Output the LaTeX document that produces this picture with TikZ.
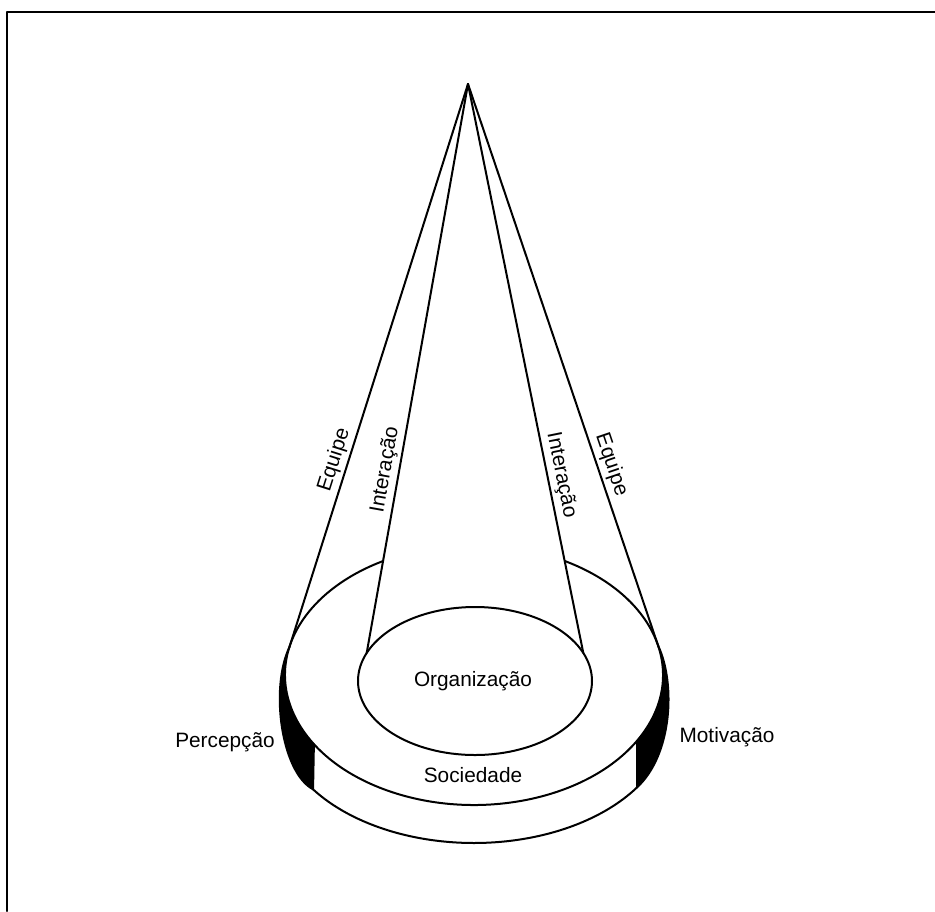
\documentclass[tikz,border=0pt]{standalone}
\usepackage{fontspec}
\setmainfont{Liberation Sans}
\usetikzlibrary{calc}
\begin{document}
\begin{tikzpicture}[x=1pt,y=-1pt,line join=round,line cap=round,
  lbl/.style={font=\fontsize{20.8}{24}\selectfont,inner sep=3pt},
  edge/.style={line width=2pt},
  frame/.style={line width=2.6pt}]
\useasboundingbox (0,0) rectangle (935,911);
% frame
\coordinate (FR) at (935,12);
\coordinate (FC) at (7,12);
\coordinate (FB) at (7,911);
\draw[frame] (FR) -- (FC) -- (FB);
% key points
\coordinate (A) at (468,84);
\coordinate (C1) at (474,675);
\coordinate (C0) at (475,681);
\coordinate (C2) at (474,718);
\coordinate (PL) at ($(C1)+(192.3:189 and 130)$);
\coordinate (PR) at ($(C1)+(346.9:189 and 130)$);
\coordinate (IL) at ($(C0)+(202.2:117 and 74)$);
\coordinate (IR) at ($(C0)+(337.8:117 and 74)$);
\coordinate (BL1) at ($(C1)+(147.9:189 and 130)$);
\coordinate (BR1) at ($(C1)+(30.4:189 and 130)$);
\coordinate (BL2) at ($(C2)+(145.2:196 and 125)$);
\coordinate (BR2) at ($(C2)+(33.7:196 and 125)$);
\coordinate (E1s) at ($(C1)+(298.7:189 and 130)$);
% black crescents
\fill (PL) .. controls (270,688) and (281,772) .. (BL2) -- (BL1)
  arc[start angle=147.9,end angle=192.3,x radius=189,y radius=130] -- cycle;
\fill (PR) .. controls (676,684) and (672,755) .. (BR2) -- (BR1)
  arc[start angle=30.4,end angle=-13.1,x radius=189,y radius=130] -- cycle;
% outlines of the base
\draw[edge] (PL) .. controls (270,688) and (281,772) .. (BL2);
\draw[edge] (PR) .. controls (676,684) and (672,755) .. (BR2);
\draw[edge] (BL2) arc[start angle=145.2,end angle=33.7,x radius=196,y radius=125];
\draw[edge] (BL1) -- (BL2);
\draw[edge] (BR1) -- (BR2);
\draw[edge] (E1s) arc[start angle=298.7,end angle=601.3,x radius=189,y radius=130];
% inner ellipse
\draw[edge] (C0) ellipse [x radius=117,y radius=74];
% cone lines with labels
\draw[edge] (PL) -- node[lbl,sloped,above,pos=0.325] (eqL) {Equipe} (A);
\draw[edge] (A) -- node[lbl,sloped,above,pos=0.686] (eqR) {Equipe} (PR);
\draw[edge] (IL) -- node[lbl,sloped,above,pos=0.318] (inL) {Interação} (A);
\draw[edge] (A) -- node[lbl,sloped,above,pos=0.692] (inR) {Interação} (IR);
% labels
\node[lbl,anchor=base] (org) at (473,686) {Organização};
\node[lbl,anchor=base] (soc) at (473,782) {Sociedade};
\node[lbl,anchor=base] (perc) at (225,747) {Percepção};
\node[lbl,anchor=base] (mot) at (727,742) {Motivação};
\end{tikzpicture}
\end{document}
